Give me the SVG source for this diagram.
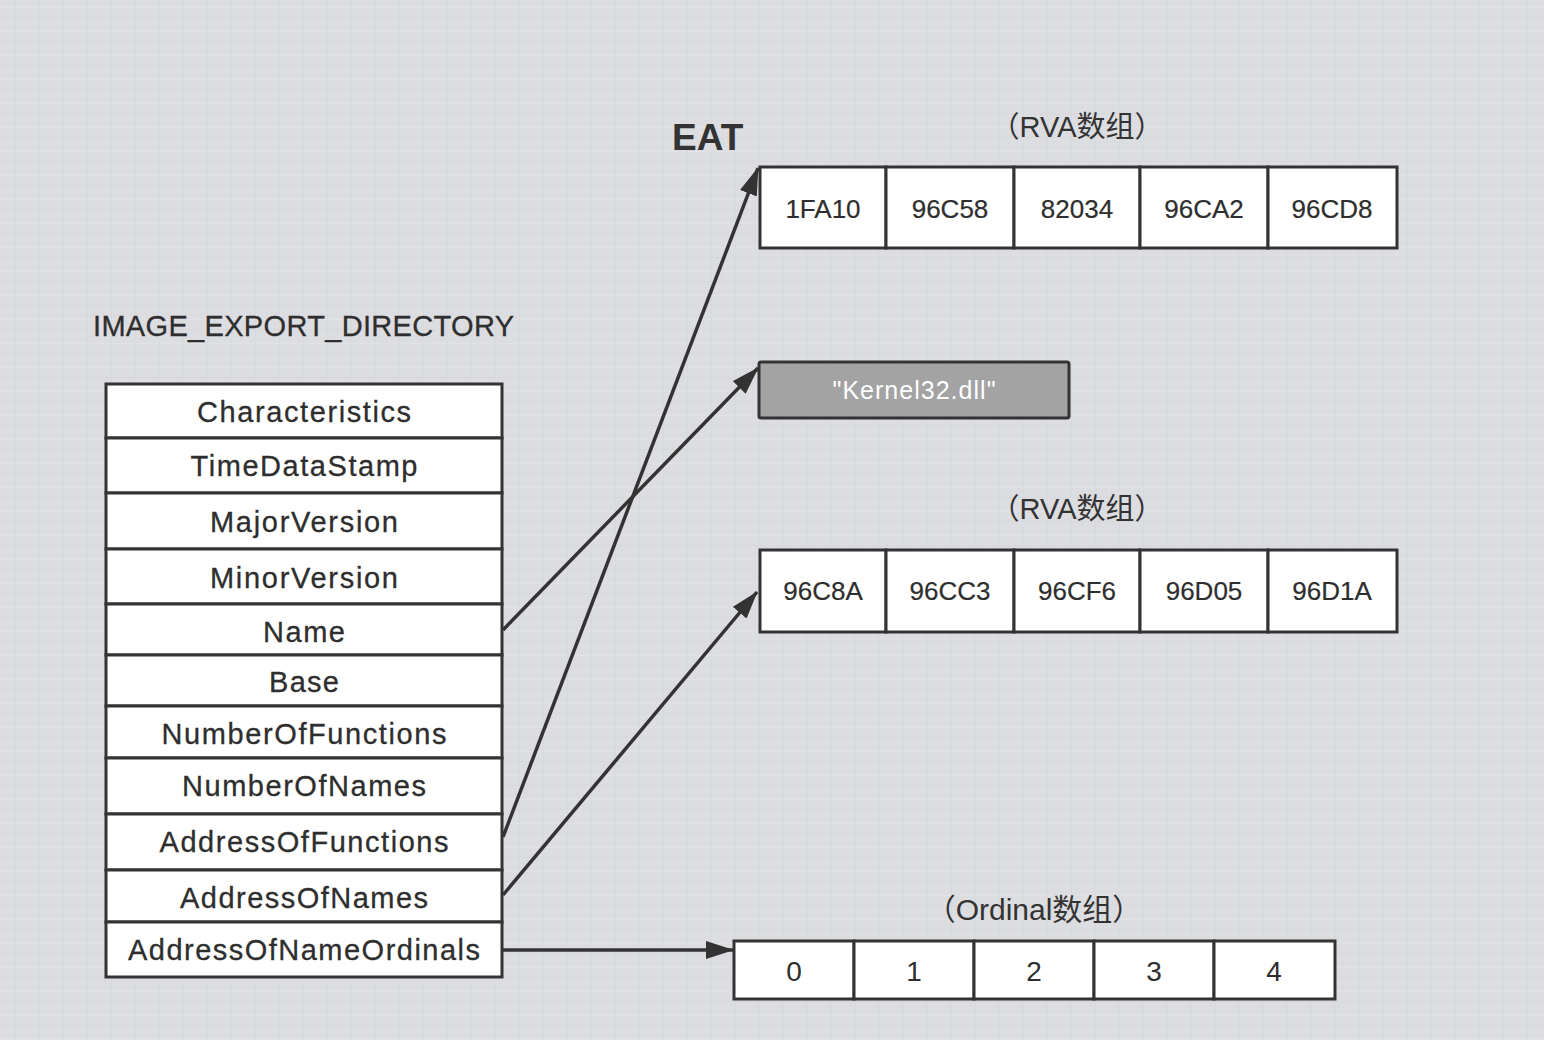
<svg xmlns="http://www.w3.org/2000/svg" width="1544" height="1040" viewBox="0 0 1544 1040">
<style>
.cell{fill:#ffffff;stroke:#333333;stroke-width:3}
.dark{fill:#a3a3a3;stroke:#333333;stroke-width:3}
.t{font-family:"Liberation Sans",Arial,sans-serif;fill:#2e2e2e;text-anchor:middle}
.row{font-size:29px;stroke:#2e2e2e;stroke-width:0.3}
.val{font-size:26px;stroke:#2e2e2e;stroke-width:0.2}
.ord{font-size:28px}
.lbl{font-family:"Liberation Sans","Noto Sans CJK SC",sans-serif;fill:#333333;text-anchor:middle}
.conn{fill:none;stroke:#333333;stroke-width:3.5}
</style>
<defs>
<pattern id="tex" width="24" height="24" patternUnits="userSpaceOnUse">
<rect width="24" height="24" fill="#dcdde1"/>
<rect x="0" y="7" width="24" height="1" fill="#e3e4e7" opacity="0.7"/>
<rect x="0" y="17" width="24" height="1" fill="#d5d6da" opacity="0.7"/>
<rect x="5" y="0" width="1" height="24" fill="#e2e3e6" opacity="0.6"/>
<rect x="15" y="0" width="1" height="24" fill="#d6d7db" opacity="0.6"/>
</pattern>
<marker id="arr" markerUnits="userSpaceOnUse" markerWidth="30" markerHeight="20" refX="27" refY="9" orient="auto">
<path d="M0,0 L28,9 L0,18 Z" fill="#333333"/>
</marker>
</defs>
<rect width="1544" height="1040" fill="url(#tex)"/>

<text x="672" y="150" font-family="Liberation Sans,Arial,sans-serif" font-weight="bold" font-size="37" fill="#333333">EAT</text>
<text x="93" y="336" font-family="Liberation Sans,Arial,sans-serif" font-size="29" fill="#2e2e2e" stroke="#2e2e2e" stroke-width="0.3" textLength="421">IMAGE_EXPORT_DIRECTORY</text>
<text class="lbl" x="1077" y="137" font-size="29">（RVA数组）</text>
<text class="lbl" x="1077" y="519" font-size="29">（RVA数组）</text>
<text class="lbl" x="1034" y="920" font-size="30">（Ordinal数组）</text>

<g id="image_export_directory">
<g id="row_characteristics"><rect class="cell" x="106" y="384" width="396" height="54"/><text class="t row" x="304" y="422" textLength="214">Characteristics</text></g>
<g id="row_timedatastamp"><rect class="cell" x="106" y="438" width="396" height="55"/><text class="t row" x="304" y="476" textLength="227">TimeDataStamp</text></g>
<g id="row_majorversion"><rect class="cell" x="106" y="493" width="396" height="56"/><text class="t row" x="304" y="532" textLength="188">MajorVersion</text></g>
<g id="row_minorversion"><rect class="cell" x="106" y="549" width="396" height="55"/><text class="t row" x="304" y="588" textLength="188">MinorVersion</text></g>
<g id="row_name"><rect class="cell" x="106" y="604" width="396" height="51"/><text class="t row" x="304" y="642" textLength="82">Name</text></g>
<g id="row_base"><rect class="cell" x="106" y="655" width="396" height="51"/><text class="t row" x="304" y="692" textLength="70">Base</text></g>
<g id="row_numberoffunctions"><rect class="cell" x="106" y="706" width="396" height="52"/><text class="t row" x="304" y="744" textLength="285">NumberOfFunctions</text></g>
<g id="row_numberofnames"><rect class="cell" x="106" y="758" width="396" height="56"/><text class="t row" x="304" y="796" textLength="244">NumberOfNames</text></g>
<g id="row_addressoffunctions"><rect class="cell" x="106" y="814" width="396" height="56"/><text class="t row" x="304" y="852" textLength="289">AddressOfFunctions</text></g>
<g id="row_addressofnames"><rect class="cell" x="106" y="870" width="396" height="52"/><text class="t row" x="304" y="908" textLength="248">AddressOfNames</text></g>
<g id="row_addressofnameordinals"><rect class="cell" x="106" y="922" width="396" height="55"/><text class="t row" x="304" y="960" textLength="352">AddressOfNameOrdinals</text></g>
</g>

<g id="eat_array">
<rect class="cell" x="760" y="167" width="126" height="81"/><text class="t val" x="823" y="218">1FA10</text>
<rect class="cell" x="886" y="167" width="128" height="81"/><text class="t val" x="950" y="218">96C58</text>
<rect class="cell" x="1014" y="167" width="126" height="81"/><text class="t val" x="1077" y="218">82034</text>
<rect class="cell" x="1140" y="167" width="128" height="81"/><text class="t val" x="1204" y="218">96CA2</text>
<rect class="cell" x="1268" y="167" width="129" height="81"/><text class="t val" x="1332" y="218">96CD8</text>
</g>

<g id="kernel32">
<rect class="dark" x="759" y="362" width="310" height="56" rx="2"/>
<text class="t" x="914" y="399" font-size="25" style="fill:#ffffff" textLength="163">"Kernel32.dll"</text>
</g>

<g id="names_array">
<rect class="cell" x="760" y="550" width="126" height="82"/><text class="t val" x="823" y="600">96C8A</text>
<rect class="cell" x="886" y="550" width="128" height="82"/><text class="t val" x="950" y="600">96CC3</text>
<rect class="cell" x="1014" y="550" width="126" height="82"/><text class="t val" x="1077" y="600">96CF6</text>
<rect class="cell" x="1140" y="550" width="128" height="82"/><text class="t val" x="1204" y="600">96D05</text>
<rect class="cell" x="1268" y="550" width="129" height="82"/><text class="t val" x="1332" y="600">96D1A</text>
</g>

<g id="ordinal_array">
<rect class="cell" x="734" y="941" width="120" height="58"/><text class="t ord" x="794" y="981">0</text>
<rect class="cell" x="854" y="941" width="120" height="58"/><text class="t ord" x="914" y="981">1</text>
<rect class="cell" x="974" y="941" width="120" height="58"/><text class="t ord" x="1034" y="981">2</text>
<rect class="cell" x="1094" y="941" width="120" height="58"/><text class="t ord" x="1154" y="981">3</text>
<rect class="cell" x="1214" y="941" width="121" height="58"/><text class="t ord" x="1274" y="981">4</text>
</g>

<g id="connectors">
<line class="conn" x1="503" y1="630" x2="758" y2="368" marker-end="url(#arr)"/>
<line class="conn" x1="503" y1="837" x2="758" y2="168" marker-end="url(#arr)"/>
<line class="conn" x1="503" y1="895" x2="757" y2="592" marker-end="url(#arr)"/>
<line class="conn" x1="503" y1="950" x2="733" y2="950" marker-end="url(#arr)"/>
</g>
</svg>
